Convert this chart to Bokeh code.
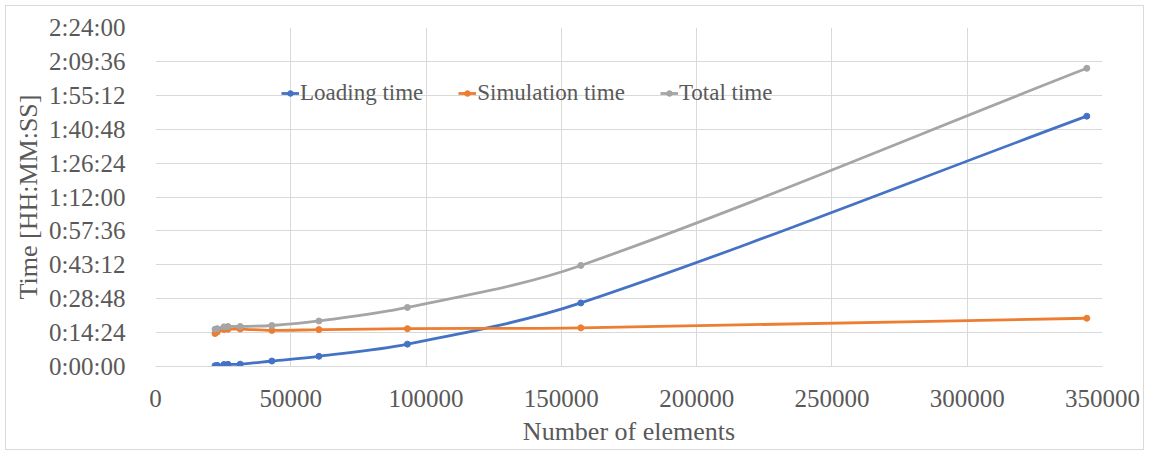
from bokeh.plotting import figure
from bokeh.models import Range1d, FixedTicker, ColumnDataSource, Legend, LegendItem
from bokeh.embed import file_html
from bokeh.resources import INLINE

# ---- data ----
elements = [22000, 22800, 25300, 26800, 31300, 43000, 60400, 93100, 157200, 344200]
loading_s = [20, 30, 50, 55, 60, 140, 260, 570, 1620, 6380]
simulation_s = [840, 880, 945, 950, 955, 920, 940, 965, 985, 1230]
total_s = [950, 965, 1010, 1020, 1020, 1045, 1160, 1505, 2575, 7600]

series_names = ["Loading time", "Simulation time", "Total time"]
series_colors = ["#4472C4", "#ED7D31", "#A5A5A5"]

x_ticks = [0, 50000, 100000, 150000, 200000, 250000, 300000, 350000]
x_tick_labels = ["0", "50000", "100000", "150000", "200000", "250000", "300000", "350000"]
y_ticks = [0, 864, 1728, 2592, 3456, 4320, 5184, 6048, 6912, 7776, 8640]
y_tick_labels = ["0:00:00", "0:14:24", "0:28:48", "0:43:12", "0:57:36", "1:12:00",
                 "1:26:24", "1:40:48", "1:55:12", "2:09:36", "2:24:00"]

FONT = "Liberation Serif"
TXT = "#595959"
GRID = "#D9D9D9"

p = figure(width=1137, height=443, output_backend="svg", toolbar_location=None,
           x_range=Range1d(0, 350000), y_range=Range1d(0, 8640),
           min_border_left=149, min_border_top=21, min_border_right=41, min_border_bottom=83)
p.styles = {"margin-left": "6px", "margin-top": "6px",
            "outline": "1px solid #D9D9D9", "outline-offset": "0px"}
p.outline_line_color = None
p.background_fill_color = "white"
p.border_fill_color = "white"

# axes
p.xaxis.ticker = FixedTicker(ticks=x_ticks)
p.xaxis.major_label_overrides = {t: l for t, l in zip(x_ticks, x_tick_labels)}
p.yaxis.ticker = FixedTicker(ticks=y_ticks)
p.yaxis.major_label_overrides = {t: l for t, l in zip(y_ticks, y_tick_labels)}
for ax in (p.xaxis[0], p.yaxis[0]):
    ax.major_tick_line_color = None
    ax.minor_tick_line_color = None
    ax.major_label_text_font = FONT
    ax.major_label_text_font_size = "25px"
    ax.major_label_text_color = TXT
    ax.axis_label_text_font = FONT
    ax.axis_label_text_font_size = "26px"
    ax.axis_label_text_font_style = "normal"
    ax.axis_label_text_color = TXT
p.xaxis.axis_line_color = GRID
p.yaxis.axis_line_color = None
p.xaxis.major_label_standoff = 17
p.yaxis.major_label_standoff = 24
p.xaxis.axis_label = "Number of elements"
p.yaxis.axis_label = "Time [HH:MM:SS]"
p.xaxis.axis_label_standoff = 7
p.yaxis.axis_label_standoff = 3

p.xgrid.ticker = FixedTicker(ticks=x_ticks)
p.ygrid.ticker = FixedTicker(ticks=y_ticks)
p.xgrid.grid_line_color = GRID
p.ygrid.grid_line_color = GRID


def smooth_segments(xs, ys):
    """Cubic Bezier control points of a smooth curve through the points (x as parameter)."""
    n = len(xs)
    slopes = []
    for i in range(n):
        a = max(i - 1, 0)
        b = min(i + 1, n - 1)
        slopes.append((ys[b] - ys[a]) / (xs[b] - xs[a]))
    d = dict(x0=[], y0=[], x1=[], y1=[], cx0=[], cy0=[], cx1=[], cy1=[])
    for i in range(n - 1):
        h = (xs[i + 1] - xs[i]) / 3.0
        d["x0"].append(xs[i]); d["y0"].append(ys[i])
        d["x1"].append(xs[i + 1]); d["y1"].append(ys[i + 1])
        d["cx0"].append(xs[i] + h)
        d["cy0"].append(ys[i] + slopes[i] * h)
        d["cx1"].append(xs[i + 1] - h)
        d["cy1"].append(ys[i + 1] - slopes[i + 1] * h)
    return ColumnDataSource(d)


items = []
for name, color, vals in zip(series_names, series_colors, [loading_s, simulation_s, total_s]):
    curve = p.bezier(x0="x0", y0="y0", x1="x1", y1="y1", cx0="cx0", cy0="cy0",
                     cx1="cx1", cy1="cy1", source=smooth_segments(elements, vals),
                     line_color=color, line_width=2.8)
    pts = p.scatter(x=elements, y=vals, size=6, marker="circle",
                    fill_color=color, line_color=color)
    items.append(LegendItem(label=name, renderers=[curve, pts]))

legend = Legend(items=items, orientation="horizontal", location=(126, 260),
                label_text_font=FONT, label_text_font_size="23px", label_text_color=TXT,
                glyph_width=18, glyph_height=14, label_standoff=1, spacing=35,
                padding=0, margin=0, border_line_color=None, background_fill_alpha=0)
p.add_layout(legend, "center")

open("out.html", "w").write(file_html(p, INLINE))
